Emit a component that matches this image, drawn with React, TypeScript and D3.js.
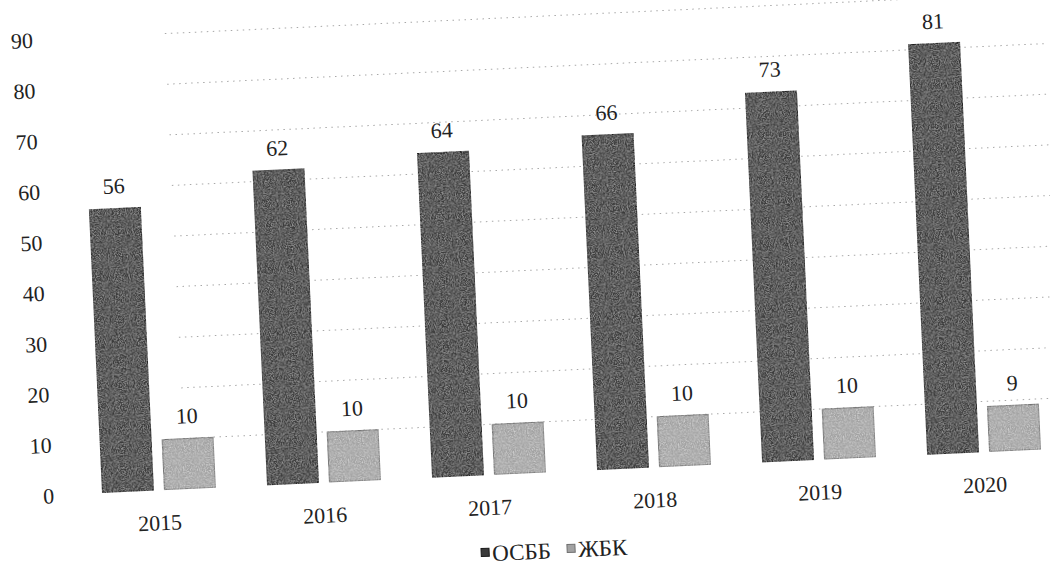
import React from 'react';
import * as d3 from 'd3';

const years = ['2015', '2016', '2017', '2018', '2019', '2020'];
const osbb = [56, 62, 64, 66, 73, 81];
const zhbk = [10, 10, 10, 10, 10, 9];
const seriesNames = ['ОСББ', 'ЖБК'];
const yTicks = [0, 10, 20, 30, 40, 50, 60, 70, 80, 90];

const COLORS = ['#3a3a3a', '#a2a2a2'];
const STROKES = ['#1a1a1a', '#707070'];

export default function App() {
  const width = 1050;
  const height = 569;
  const FONT = "'Liberation Serif', 'DejaVu Serif', serif";

  // local frame: origin at the first bar's bottom-left corner, then the whole chart is tilted like the scan
  const x = d3.scaleBand<string>()
    .domain(years)
    .range([-26, -26 + 6 * 165.2]);
  const xSub = d3.scaleBand<string>()
    .domain(seriesNames)
    .range([26, 140])
    .paddingInner(0.176);
  const y = d3.scaleLinear().domain([0, 90]).range([0, -456]);

  const rows = years.map((yr, i) => ({ yr, values: [osbb[i], zhbk[i]] }));

  return (
    <svg
      width={width}
      height={height}
      style={{ position: 'absolute', left: 0, top: 0, background: '#fff', fontFamily: FONT }}
    >
      <defs>
        <filter id="grain" x="0" y="0" width="100%" height="100%">
          <feTurbulence type="fractalNoise" baseFrequency="0.85" numOctaves={2} seed={3} result="noise" />
          <feColorMatrix in="noise" type="matrix"
            values="0 0 0 0 1  0 0 0 0 1  0 0 0 0 1  1.4 0 0 0 -0.55" result="spots" />
          <feComposite in="spots" in2="SourceGraphic" operator="in" result="clipped" />
          <feComposite in="clipped" in2="SourceGraphic" operator="arithmetic" k1={0} k2={0.45} k3={1} k4={0} />
        </filter>
      </defs>
      <g transform="translate(102,493) rotate(-2.65)" style={{ fontFamily: FONT }} fill="#222">
        {/* gridlines */}
        {yTicks.filter(t => t > 0).map(t => (
          <line
            key={t}
            x1={x.range()[0] + 110}
            x2={x.range()[1]}
            y1={y(t)}
            y2={y(t)}
            stroke="#a8a8a8"
            strokeWidth={1}
            strokeDasharray="1.5,4.5"
          />
        ))}
        {/* y tick labels */}
        {yTicks.map(t => (
          <text key={t} x={-48} y={y(t) + 8} textAnchor="end" fontSize={22}>
            {t}
          </text>
        ))}
        {/* bars */}
        {rows.map(row => (
          <g key={row.yr} transform={`translate(${x(row.yr)},0)`}>
            {row.values.map((v, j) => {
              const bx = xSub(seriesNames[j])!;
              const bw = xSub.bandwidth();
              return (
                <g key={j}>
                  <rect
                    x={bx}
                    y={y(v)}
                    width={bw}
                    height={-y(v)}
                    fill={COLORS[j]}
                    stroke={STROKES[j]}
                    strokeWidth={1.5}
                    filter="url(#grain)"
                  />
                  <text x={bx + bw / 2} y={y(v) - 15} textAnchor="middle" fontSize={22}>
                    {v}
                  </text>
                </g>
              );
            })}
            <text x={x.bandwidth() / 2} y={40} textAnchor="middle" fontSize={22}>
              {row.yr}
            </text>
          </g>
        ))}
        {/* legend */}
        <g transform="translate(376,86)">
          {seriesNames.map((s, j) => (
            <g key={s} transform={`translate(${j * 86},0)`}>
              <rect x={0} y={-13} width={8} height={8} fill={COLORS[j]} stroke={STROKES[j]} />
              <text x={11} y={0} fontSize={23}>{s}</text>
            </g>
          ))}
        </g>
      </g>
    </svg>
  );
}
